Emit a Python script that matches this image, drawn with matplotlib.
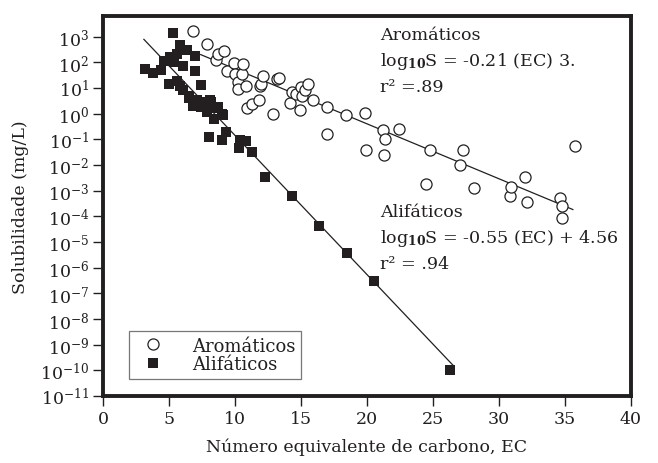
import matplotlib
matplotlib.use("Agg")
import matplotlib.pyplot as plt
import numpy as np
from matplotlib.ticker import LogLocator, LogFormatterMathtext, NullLocator

# Aliphatic hydrocarbons: equivalent carbon number vs log10 solubility (mg/L)
ali_ec = [3.2, 3.8, 4.4, 4.6, 5.0, 5.1, 5.3, 5.4, 5.6, 5.6, 5.8, 5.8, 6.1, 6.1,
          6.4, 6.5, 6.5, 6.8, 7.0, 7.0, 7.1, 7.4, 7.4, 7.6, 7.9, 8.1, 8.2, 8.4,
          8.6, 8.7, 9.0, 9.1, 8.0, 9.0, 9.3, 10.3, 10.4, 10.8, 11.3, 12.3,
          14.3, 16.4, 18.5, 20.5, 26.3]
ali_log = [1.75, 1.58, 1.70, 2.06, 1.15, 2.20, 3.12, 2.00, 1.28, 2.32, 2.68, 1.09,
           1.86, 0.90, 2.47, 0.61, 0.70, 0.31, 2.25, 1.67, 0.51, 1.13, 0.25, 0.44,
           0.05, 0.51, 0.44, -0.20, 0.22, 0.25, -0.01, -0.05, -0.91, -1.04, -0.72,
           -1.36, -1.04, -1.07, -1.50, -2.48, -3.20, -4.36, -5.43, -6.53, -10.0]

# Aromatic hydrocarbons
aro_ec = [6.8, 7.9, 8.6, 8.7, 9.2, 9.4, 9.9, 10.0, 10.2, 10.25, 10.5, 10.6, 10.8,
          10.9, 11.3, 11.85, 11.9, 12.0, 12.1, 12.9, 13.2, 13.3, 14.2, 14.3, 14.6,
          15.0, 15.1, 14.9, 15.3, 15.55, 15.9, 16.95, 17.0, 18.4, 19.85, 19.95,
          21.2, 21.3, 21.4, 22.45, 24.5, 24.8, 27.05, 27.25, 28.1, 30.8, 30.9,
          31.97, 32.1, 34.6, 34.75, 34.75, 35.75]
aro_log = [3.22, 2.71, 2.09, 2.32, 2.42, 1.67, 1.95, 1.54, 1.22, 0.96, 1.54, 1.93,
           1.09, 0.22, 0.38, 0.53, 1.09, 1.16, 1.46, -0.02, 1.35, 1.39, 0.40, 0.85,
           0.77, 1.05, 0.70, 0.15, 0.90, 1.16, 0.51, -0.81, 0.25, -0.07, 0.02,
           -1.40, -0.65, -1.62, -0.98, -0.59, -2.75, -1.43, -2.01, -1.43, -2.89,
           -3.21, -2.85, -2.47, -3.46, -3.30, -3.60, -4.05, -1.27]

# regression lines: slope, intercept, EC range drawn
aro_fit = (-0.214, 3.88, 7.4, 35.6)
ali_fit = (-0.542, 4.57, 3.1, 26.5)

ink = "#231f20"
plt.rcParams["font.family"] = ["DejaVu Serif"]
plt.rcParams["mathtext.fontset"] = "dejavuserif"

fig = plt.figure(figsize=(6.58, 4.64), dpi=100)
ax = fig.add_axes([0.1565, 0.1444, 0.8024, 0.8190])

for sl, ic, x0, x1 in [aro_fit, ali_fit]:
    xs = np.array([x0, x1])
    ax.plot(xs, 10 ** (sl * xs + ic), color=ink, lw=0.9, zorder=2)

ax.plot(aro_ec, 10 ** np.array(aro_log), ls="none", marker="o", ms=8,
        mfc="white", mec=ink, mew=0.9, label="Aromáticos", zorder=3)
ax.plot(ali_ec, 10 ** np.array(ali_log), ls="none", marker="s", ms=6.7,
        mfc=ink, mec=ink, mew=0, label="Alifáticos", zorder=4)

ax.set_yscale("log")
ax.set_xlim(0, 40)
ax.set_ylim(1e-11, 10 ** 3.8)
ax.set_xticks(np.arange(0, 41, 5))
ax.yaxis.set_major_locator(LogLocator(base=10, numticks=20))
ax.yaxis.set_major_formatter(LogFormatterMathtext())
ax.yaxis.set_minor_locator(NullLocator())
ax.tick_params(axis="both", which="major", direction="out", length=7,
               width=1, color=ink, labelsize=12.5, labelcolor=ink, pad=3)
for s in ax.spines.values():
    s.set_linewidth(2.8)
    s.set_color(ink)

ax.set_xlabel("Número equivalente de carbono, EC", fontsize=12.5, color=ink,
              labelpad=8)
ax.set_ylabel("Solubilidade (mg/L)", fontsize=12.5, color=ink, labelpad=8)

ax.text(0.525, 0.974, "Aromáticos\nlog$_{\\mathbf{10}}$S = -0.21 (EC) 3.\nr² =.89",
        transform=ax.transAxes, fontsize=12.6, color=ink, va="top",
        linespacing=1.5)
ax.text(0.525, 0.508, "Alifáticos\nlog$_{\\mathbf{10}}$S = -0.55 (EC) + 4.56\nr² = .94",
        transform=ax.transAxes, fontsize=12.6, color=ink, va="top",
        linespacing=1.5)

leg = ax.legend(loc="lower left", bbox_to_anchor=(0.05, 0.045), fontsize=13,
                frameon=True, fancybox=False, borderpad=0.3, labelspacing=0.05,
                handletextpad=1.2, handlelength=2.0, borderaxespad=0)
leg.get_frame().set_edgecolor("#555555")
leg.get_frame().set_linewidth(0.9)
for t in leg.get_texts():
    t.set_color(ink)

fig.savefig("out.png", dpi=100)
